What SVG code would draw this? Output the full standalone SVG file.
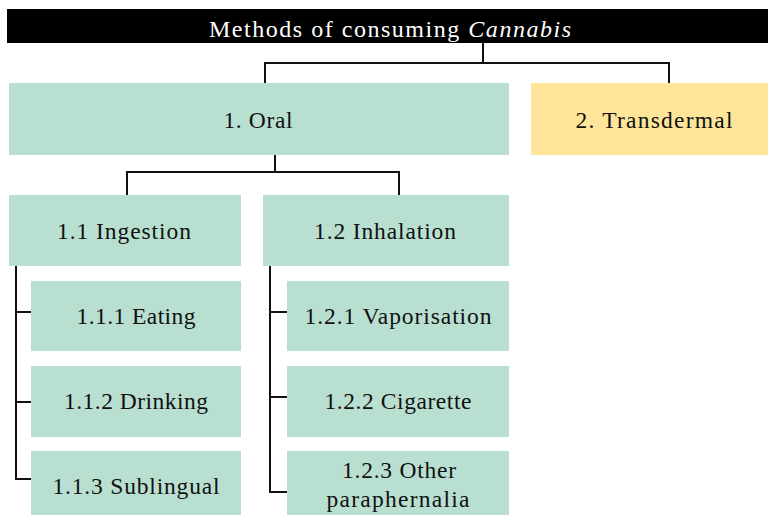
<svg xmlns="http://www.w3.org/2000/svg" width="768" height="515" viewBox="0 0 768 515">
<style>
.g{fill:#b8dfd0}
.y{fill:#fee599}
.t{font-size:23.5px;fill:#111;text-anchor:middle}
.c{fill:none;stroke:#111;stroke-width:2}
</style>
<rect width="768" height="515" fill="#fff"/>
<g font-family="Liberation Serif, Times New Roman, serif">
<g id="title">
<rect x="7" y="9" width="761" height="34" fill="#000"/>
<text x="390" y="37" class="t" style="fill:#fff;font-size:24px" textLength="362" lengthAdjust="spacing">Methods of consuming <tspan font-style="italic">Cannabis</tspan></text>
</g>
<g id="connectors">
<path class="c" d="M483 43V63M265 83V63H669V83"/>
<path class="c" d="M275 155V172M127 195V172H399V195"/>
<path class="c" d="M16 266V479H32M16 312H32M16 402H32"/>
<path class="c" d="M270 266V492H287M270 312H287M270 397H287"/>
</g>
<g id="oral"><rect class="g" x="9" y="83" width="500" height="72"/><text class="t" x="258" y="128" textLength="69" lengthAdjust="spacing">1. Oral</text></g>
<g id="transdermal"><rect class="y" x="531" y="83" width="237" height="72"/><text class="t" x="654" y="128" textLength="157" lengthAdjust="spacing">2. Transdermal</text></g>
<g id="ingestion"><rect class="g" x="9" y="195" width="232" height="71"/><text class="t" x="124" y="239" textLength="134" lengthAdjust="spacing">1.1 Ingestion</text></g>
<g id="inhalation"><rect class="g" x="263" y="195" width="246" height="71"/><text class="t" x="385" y="239" textLength="142" lengthAdjust="spacing">1.2 Inhalation</text></g>
<g id="eating"><rect class="g" x="31" y="281" width="210" height="70"/><text class="t" x="136" y="324" textLength="119" lengthAdjust="spacing">1.1.1 Eating</text></g>
<g id="drinking"><rect class="g" x="31" y="366" width="210" height="71"/><text class="t" x="136" y="409" textLength="144" lengthAdjust="spacing">1.1.2 Drinking</text></g>
<g id="sublingual"><rect class="g" x="31" y="451" width="210" height="64"/><text class="t" x="136" y="494" textLength="167" lengthAdjust="spacing">1.1.3 Sublingual</text></g>
<g id="vaporisation"><rect class="g" x="287" y="281" width="222" height="70"/><text class="t" x="398" y="324" textLength="187" lengthAdjust="spacing">1.2.1 Vaporisation</text></g>
<g id="cigarette"><rect class="g" x="287" y="366" width="222" height="71"/><text class="t" x="398" y="409" textLength="147" lengthAdjust="spacing">1.2.2 Cigarette</text></g>
<g id="other"><rect class="g" x="287" y="451" width="222" height="64"/><text class="t" x="399" y="478" textLength="114" lengthAdjust="spacing">1.2.3 Other</text><text class="t" x="398" y="507" textLength="143" lengthAdjust="spacing">paraphernalia</text></g>
</g>
</svg>
